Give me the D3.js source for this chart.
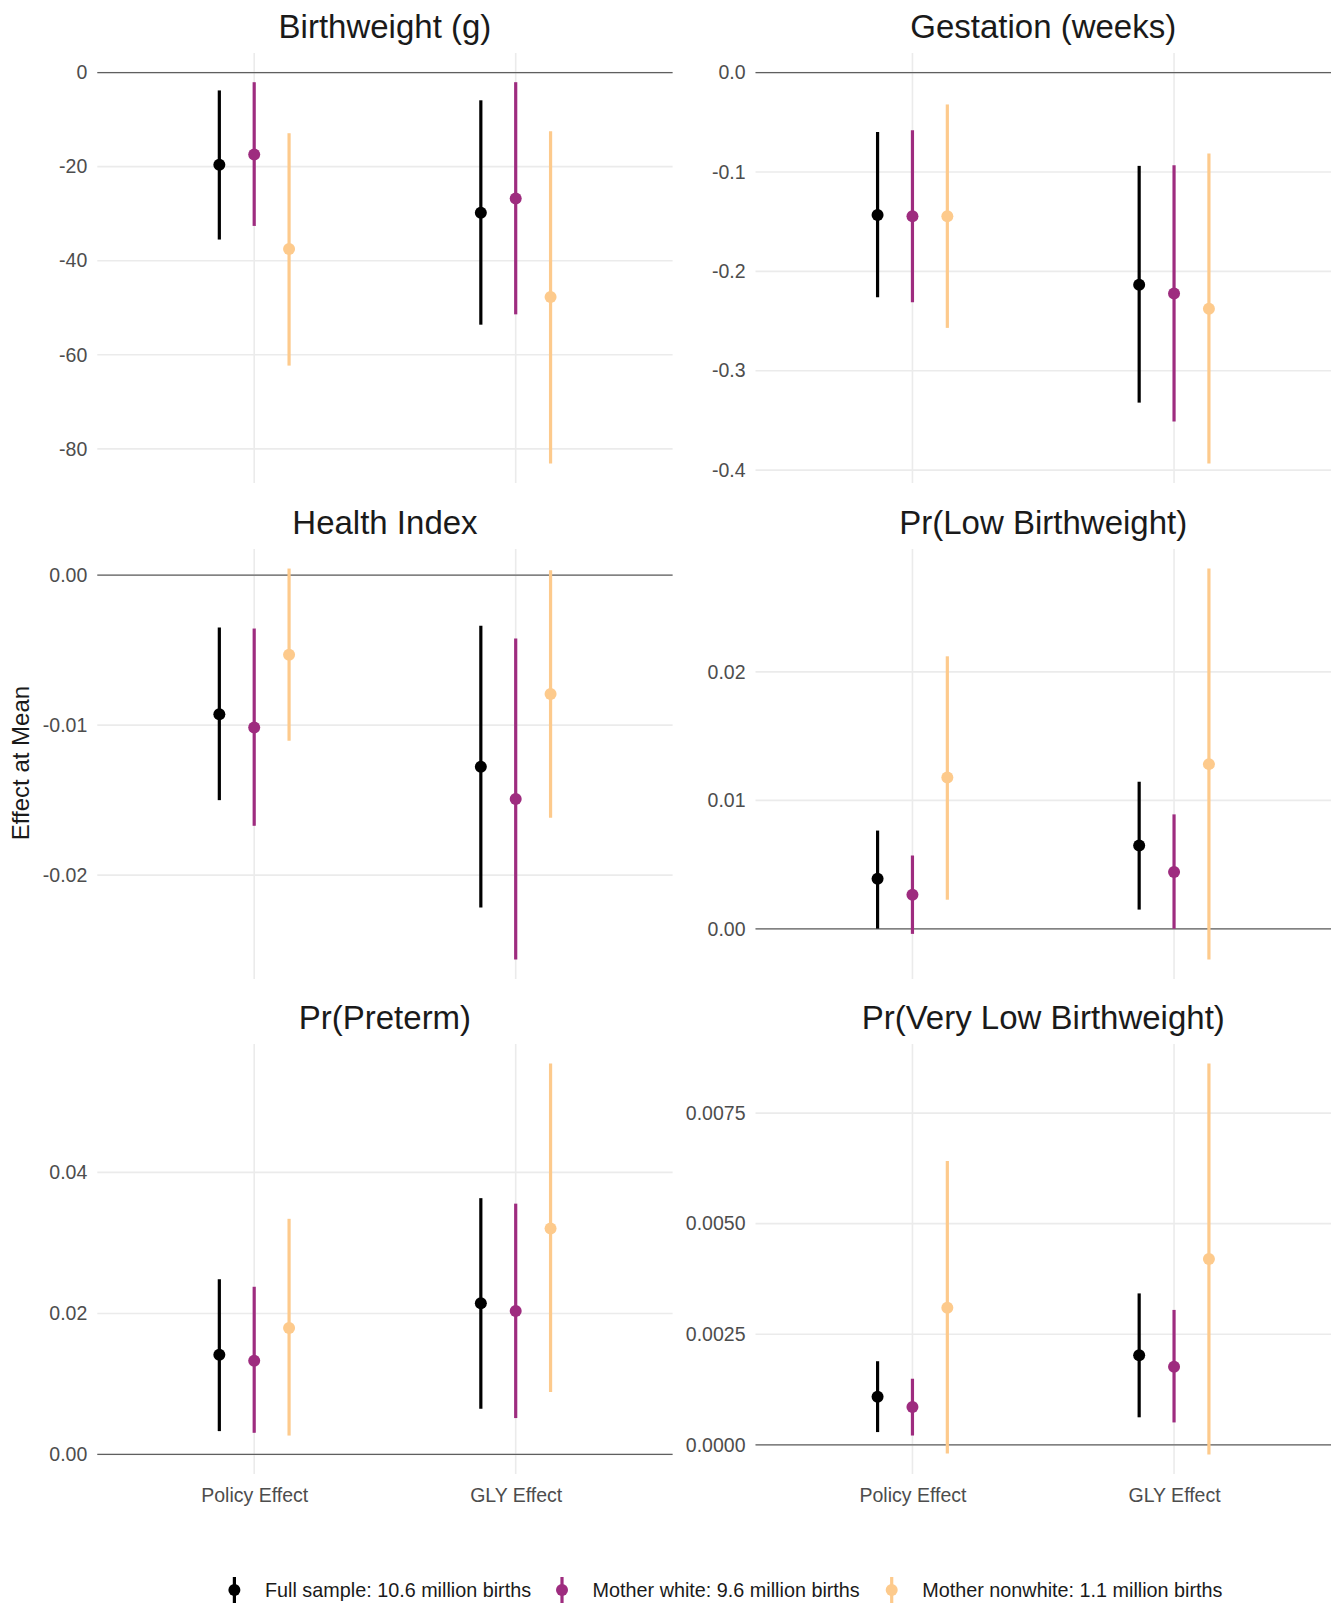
<!DOCTYPE html>
<html>
<head>
<meta charset="utf-8">
<script src="https://cdn.jsdelivr.net/npm/d3@7"></script>
<style>
  html, body { margin: 0; padding: 0; background: #ffffff; }
  svg { display: block; font-family: "Liberation Sans", Arial, Helvetica, sans-serif; }
</style>
</head>
<body>
<svg id="chart" width="1338" height="1605"></svg>
<script>
// Effect estimates with 95% intervals, one array per outcome.
// Order inside each array: Policy Effect (full, white, nonwhite), GLY Effect (full, white, nonwhite).
const categories = ["Policy Effect", "GLY Effect"];
const groups = [
  "Full sample: 10.6 million births",
  "Mother white: 9.6 million births",
  "Mother nonwhite: 1.1 million births"
];
const outcomes = [
  "Birthweight (g)", "Gestation (weeks)",
  "Health Index", "Pr(Low Birthweight)",
  "Pr(Preterm)", "Pr(Very Low Birthweight)"
];

const birthweightEst = [-19.6, -17.4, -37.5, -29.8, -26.8, -47.7];
const birthweightLo  = [-35.5, -32.6, -62.3, -53.6, -51.4, -83.1];
const birthweightHi  = [-3.8, -2.05, -12.9, -5.9, -2.05, -12.5];

const gestationEst = [-0.1433, -0.1447, -0.1447, -0.2135, -0.2222, -0.2376];
const gestationLo  = [-0.2262, -0.2312, -0.2569, -0.3321, -0.3512, -0.3933];
const gestationHi  = [-0.0598, -0.0581, -0.0321, -0.0939, -0.0932, -0.0815];

const healthEst = [-0.00927, -0.01016, -0.00531, -0.01278, -0.01493, -0.00793];
const healthLo  = [-0.0150, -0.01671, -0.01104, -0.02216, -0.02562, -0.01618];
const healthHi  = [-0.00349, -0.00356, 0.00044, -0.00338, -0.00422, 0.00033];

const lowBwEst = [0.0039, 0.00266, 0.01178, 0.00649, 0.00442, 0.01282];
const lowBwLo  = [0.00002, -0.00039, 0.00227, 0.0015, 0.00001, -0.00238];
const lowBwHi  = [0.00765, 0.00571, 0.02121, 0.01145, 0.00891, 0.02804];

const pretermEst = [0.01413, 0.0133, 0.01793, 0.02144, 0.02036, 0.03206];
const pretermLo  = [0.00331, 0.00307, 0.00268, 0.00648, 0.00516, 0.00887];
const pretermHi  = [0.02485, 0.02378, 0.03342, 0.03635, 0.03557, 0.05544];

const vlowBwEst = [0.001089, 0.000856, 0.003097, 0.002023, 0.001766, 0.004201];
const vlowBwLo  = [0.000288, 0.00021, -0.000195, 0.000622, 0.000506, -0.000218];
const vlowBwHi  = [0.00189, 0.001494, 0.006419, 0.003423, 0.00305, 0.00862];

// Y-axis tick values and their printed labels, per panel
const birthweightTicks = [0, -20, -40, -60, -80];
const birthweightTickLabels = ["0", "-20", "-40", "-60", "-80"];
const gestationTicks = [0, -0.1, -0.2, -0.3, -0.4];
const gestationTickLabels = ["0.0", "-0.1", "-0.2", "-0.3", "-0.4"];
const healthTicks = [0, -0.01, -0.02];
const healthTickLabels = ["0.00", "-0.01", "-0.02"];
const lowBwTicks = [0, 0.01, 0.02];
const lowBwTickLabels = ["0.00", "0.01", "0.02"];
const pretermTicks = [0, 0.02, 0.04];
const pretermTickLabels = ["0.00", "0.02", "0.04"];
const vlowBwTicks = [0, 0.0025, 0.005, 0.0075];
const vlowBwTickLabels = ["0.0000", "0.0025", "0.0050", "0.0075"];

// Colours for the three samples
const palette = ["#000000", "#9E2C7F", "#FDCA8C"];

const panels = [
  { title: outcomes[0], est: birthweightEst, lo: birthweightLo, hi: birthweightHi, ticks: birthweightTicks, labels: birthweightTickLabels },
  { title: outcomes[1], est: gestationEst, lo: gestationLo, hi: gestationHi, ticks: gestationTicks, labels: gestationTickLabels },
  { title: outcomes[2], est: healthEst, lo: healthLo, hi: healthHi, ticks: healthTicks, labels: healthTickLabels },
  { title: outcomes[3], est: lowBwEst, lo: lowBwLo, hi: lowBwHi, ticks: lowBwTicks, labels: lowBwTickLabels },
  { title: outcomes[4], est: pretermEst, lo: pretermLo, hi: pretermHi, ticks: pretermTicks, labels: pretermTickLabels },
  { title: outcomes[5], est: vlowBwEst, lo: vlowBwLo, hi: vlowBwHi, ticks: vlowBwTicks, labels: vlowBwTickLabels }
];

// Panel grid geometry
const colX = [[97.3, 672.6], [755.5, 1331]];
const rowTop = [53, 549, 1044];
const panelH = 430;
const dodgeWidth = 0.4;

const svg = d3.select("#chart");

panels.forEach((p, i) => {
  const col = i % 2, row = Math.floor(i / 2);
  const [x0, x1] = colX[col];
  const y0 = rowTop[row], y1 = y0 + panelH;

  const x = d3.scalePoint().domain(categories).range([x0, x1]).padding(0.6);
  const step = x.step();

  // Free y scale per panel: data extent plus the zero reference line, padded 5%
  let lo = Math.min(d3.min(p.lo), 0), hi = Math.max(d3.max(p.hi), 0);
  const pad = (hi - lo) * 0.05;
  const y = d3.scaleLinear().domain([lo - pad, hi + pad]).range([y1, y0]);

  const g = svg.append("g");

  // Horizontal gridlines
  g.selectAll("line.hgrid").data(p.ticks).join("line")
    .attr("x1", x0).attr("x2", x1)
    .attr("y1", d => y(d)).attr("y2", d => y(d))
    .attr("stroke", "#EBEBEB").attr("stroke-width", 1.6);

  // Vertical gridlines at categories
  g.selectAll("line.vgrid").data(categories).join("line")
    .attr("x1", d => x(d)).attr("x2", d => x(d))
    .attr("y1", y0).attr("y2", y1)
    .attr("stroke", "#EBEBEB").attr("stroke-width", 1.6);

  // Zero reference line
  g.append("line")
    .attr("x1", x0).attr("x2", x1)
    .attr("y1", y(0)).attr("y2", y(0))
    .attr("stroke", "#5F5F5F").attr("stroke-width", 1.3);

  // Y axis labels
  const yAxis = d3.axisLeft(y).tickValues(p.ticks)
    .tickFormat((d, k) => p.labels[k]).tickSize(0).tickPadding(10);
  const ax = g.append("g").attr("transform", `translate(${x0},0)`).call(yAxis);
  ax.select(".domain").remove();
  ax.selectAll("text").attr("font-size", 19.5).attr("fill", "#4D4D4D")
    .attr("font-family", "Liberation Sans, Arial, sans-serif");

  // X axis labels only on the bottom row
  if (row === 2) {
    const xAxis = d3.axisBottom(x).tickSize(0).tickPadding(14);
    const bx = g.append("g").attr("transform", `translate(0,${y1})`).call(xAxis);
    bx.select(".domain").remove();
    bx.selectAll("text").attr("font-size", 19.5).attr("fill", "#4D4D4D")
      .attr("font-family", "Liberation Sans, Arial, sans-serif");
  }

  // Panel title
  g.append("text")
    .attr("x", (x0 + x1) / 2).attr("y", y0 - 15)
    .attr("text-anchor", "middle")
    .attr("font-size", 33).attr("fill", "#1A1A1A")
    .text(p.title);

  // Point ranges
  const rows = p.est.map((e, k) => ({
    cat: categories[Math.floor(k / 3)], grp: k % 3, est: e, lo: p.lo[k], hi: p.hi[k]
  }));
  const xPos = d => x(d.cat) + (d.grp - 1) * step * dodgeWidth / 3;

  g.selectAll("line.range").data(rows).join("line")
    .attr("x1", xPos).attr("x2", xPos)
    .attr("y1", d => y(d.lo)).attr("y2", d => y(d.hi))
    .attr("stroke", d => palette[d.grp]).attr("stroke-width", 3.2);

  g.selectAll("circle.pt").data(rows).join("circle")
    .attr("cx", xPos).attr("cy", d => y(d.est)).attr("r", 6)
    .attr("fill", d => palette[d.grp]);
});

// Shared y-axis title
svg.append("text")
  .attr("transform", "translate(29,763) rotate(-90)")
  .attr("text-anchor", "middle")
  .attr("font-size", 24).attr("fill", "#1A1A1A")
  .text("Effect at Mean");

// Legend
const legendX = [234.4, 562, 891.7];
const legendY = 1590;
const leg = svg.append("g");
groups.forEach((name, k) => {
  leg.append("line")
    .attr("x1", legendX[k]).attr("x2", legendX[k])
    .attr("y1", legendY - 13).attr("y2", legendY + 13)
    .attr("stroke", palette[k]).attr("stroke-width", 3.2);
  leg.append("circle")
    .attr("cx", legendX[k]).attr("cy", legendY).attr("r", 6)
    .attr("fill", palette[k]);
  leg.append("text")
    .attr("x", legendX[k] + 30.6).attr("y", legendY + 7)
    .attr("font-size", 19.8).attr("fill", "#1A1A1A")
    .text(name);
});
</script>
</body>
</html>
